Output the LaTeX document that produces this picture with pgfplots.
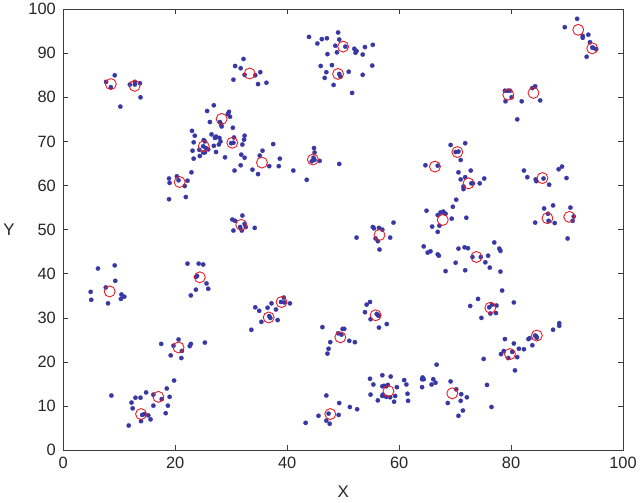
\documentclass[border=0pt]{standalone}
\usepackage{pgfplots}
\pgfplotsset{compat=1.18}
\usepackage{fontspec}
\setmainfont{Liberation Sans}
\definecolor{dotblue}{RGB}{55,55,165}
\definecolor{cred}{RGB}{232,28,36}
\definecolor{axgray}{RGB}{60,60,60}
\begin{document}
\begin{tikzpicture}
\begin{axis}[
  width=561.8bp, height=442.7bp, scale only axis,
  xmin=0, xmax=100, ymin=0, ymax=100,
  xtick={0,20,...,100}, ytick={0,10,...,100},
  tick align=inside, tick pos=both,
  major tick length=5bp,
  tick style={axgray, line width=0.6bp},
  axis line style={axgray, line width=0.8bp},
  /pgf/number format/assume math mode=true,
  tick label style={font=\fontsize{16.5}{19}\selectfont, text=black!85},
  xticklabel style={yshift=-3bp},
  yticklabel style={xshift=-4bp},
  xlabel={X}, ylabel={Y},
  label style={font=\fontsize{17}{20}\selectfont, text=black!85},
  xlabel style={at={(axis description cs:0.5,-0.093)}, anchor=center},
  ylabel style={at={(axis description cs:-0.097,0.5)}, anchor=center, rotate=-90},
]
\addplot[only marks, mark=*, mark size=2.2bp, color=dotblue, mark options={solid, draw=dotblue, fill=dotblue, line width=0.2bp}] table[row sep=\\] {
x y\\
9.2 85.0\\ 7.65 83.5\\ 8.5 82.3\\ 10.2 77.9\\
11.9 82.9\\ 12.8 83.5\\ 12.8 82.9\\ 13.7 83.2\\ 13.8 80.0\\
32.2 88.7\\ 30.7 87.1\\ 31.7 86.6\\ 32.4 85.1\\ 30.4 84.0\\ 34.3 85.0\\ 35.2 85.7\\ 34.8 83.0\\ 36.3 83.3\\
43.9 93.7\\ 46.2 93.2\\ 47.1 93.4\\ 49.1 94.7\\ 49.3 93.1\\ 45.4 92.2\\ 48.6 91.7\\ 50.4 91.5\\ 47.2 89.8\\ 48.9 90.2\\
52.0 91.0\\ 52.4 90.5\\ 52.2 90.1\\ 53.9 91.4\\ 55.3 91.9\\ 53.5 89.7\\ 46.0 87.1\\ 48.0 87.3\\ 55.2 87.2\\ 47.0 85.7\\
51.0 85.8\\ 49.3 85.3\\ 49.5 84.7\\ 46.7 84.4\\ 53.5 85.1\\ 48.3 82.8\\ 51.6 81.0\\
91.8 97.8\\ 89.6 95.9\\ 92.8 93.9\\ 92.8 93.5\\ 93.8 94.2\\ 94.1 92.5\\ 94.7 91.2\\ 95.2 90.9\\ 94.5 91.3\\ 93.5 89.2\\
78.9 81.5\\ 79.4 81.5\\ 79.8 81.5\\ 80.1 80.0\\ 79.0 79.1\\ 81.9 79.1\\ 81.1 75.0\\ 84.3 82.5\\ 83.8 82.1\\ 85.2 79.3\\
69.2 69.2\\ 71.8 69.6\\ 70.1 67.6\\ 70.6 67.7\\ 71.0 65.8\\
26.9 78.2\\ 25.7 76.9\\ 29.6 76.7\\ 29.4 76.2\\ 29.8 75.6\\ 26.2 74.4\\ 28.0 74.4\\ 28.2 73.9\\ 28.3 73.4\\ 30.3 73.1\\
23.0 72.4\\ 23.5 71.3\\ 25.1 70.3\\ 25.3 70.0\\ 26.5 71.6\\ 27.1 70.8\\ 27.3 71.1\\ 27.9 70.8\\ 28.1 70.0\\ 23.3 69.8\\
25.0 68.9\\ 25.5 68.5\\ 25.9 68.2\\ 26.9 69.0\\ 27.8 69.3\\ 23.1 67.9\\ 24.3 68.1\\ 25.0 67.5\\ 25.3 67.5\\ 27.3 67.6\\
24.4 66.7\\ 23.3 66.1\\ 28.9 66.4\\ 30.0 69.6\\ 30.4 69.7\\ 30.5 70.9\\ 32.4 71.3\\ 32.3 70.4\\ 32.0 69.3\\ 31.8 67.0\\
32.4 66.3\\ 31.7 64.6\\ 30.6 63.4\\ 33.8 63.6\\ 34.8 62.6\\
35.6 67.9\\ 35.1 66.8\\ 36.8 64.4\\ 37.5 69.4\\ 38.7 66.1\\ 38.5 64.4\\ 41.1 63.4\\ 43.5 61.3\\
44.8 68.5\\ 44.9 67.5\\ 44.4 65.5\\ 44.7 66.3\\ 44.9 65.8\\ 45.8 65.6\\ 49.3 64.9\\
18.9 61.6\\ 19.0 60.6\\ 20.3 62.1\\ 20.6 61.2\\ 21.7 59.9\\ 22.2 61.1\\ 22.9 63.0\\ 18.9 56.9\\ 21.9 57.4\\
32.0 53.2\\ 30.2 52.3\\ 30.7 52.0\\ 30.4 49.8\\ 31.6 50.6\\ 31.9 49.8\\ 32.4 51.3\\ 32.6 50.6\\ 34.2 50.4\\
6.2 41.2\\ 9.2 41.9\\ 9.3 38.4\\ 7.6 36.9\\ 4.9 35.9\\ 5.0 34.1\\ 10.4 35.3\\ 10.9 34.8\\ 10.3 34.3\\ 8.0 33.3\\
22.2 42.3\\ 24.2 42.3\\ 25.0 42.1\\ 23.7 39.3\\ 23.9 39.5\\ 25.6 37.8\\ 25.9 36.6\\ 23.7 36.4\\ 22.8 35.1\\
55.3 50.6\\ 55.5 50.3\\ 56.4 50.4\\ 57.0 50.0\\ 55.8 48.0\\ 56.2 47.4\\ 59.0 51.6\\ 58.4 48.2\\ 52.4 48.2\\ 56.5 45.5\\
64.7 64.6\\ 66.9 64.5\\
64.9 54.3\\ 66.9 53.3\\ 67.4 53.9\\ 68.3 53.6\\ 67.9 54.1\\ 65.9 50.7\\ 67.2 50.9\\ 66.9 49.5\\ 69.4 52.5\\ 72.0 52.7\\ 70.2 56.8\\ 69.6 55.2\\
70.6 63.0\\ 72.8 63.4\\ 71.8 61.9\\ 71.0 61.4\\ 72.9 60.5\\ 73.2 60.5\\ 71.5 59.8\\ 71.5 59.2\\ 74.4 60.5\\ 75.2 61.6\\
82.3 63.4\\ 82.9 61.9\\ 84.4 61.4\\ 84.5 61.0\\ 85.8 61.6\\ 86.8 60.2\\ 88.5 63.7\\ 89.1 64.3\\ 89.9 61.7\\
85.9 54.8\\ 87.5 55.5\\ 86.6 53.6\\ 86.7 52.0\\ 84.3 51.6\\ 87.8 51.5\\ 90.6 55.0\\ 91.2 53.0\\ 91.0 52.0\\ 90.1 48.0\\
77.0 47.1\\ 70.6 45.7\\ 71.7 46.0\\ 72.3 45.8\\ 73.1 43.8\\ 74.6 43.8\\ 75.9 44.1\\ 77.9 45.7\\ 78.1 45.2\\ 75.4 42.6\\
76.2 41.4\\ 78.1 40.5\\ 70.1 42.5\\ 68.3 40.6\\ 71.8 40.8\\ 66.9 44.4\\ 67.1 44.1\\ 64.4 46.2\\ 65.1 44.8\\ 65.6 45.1\\
34.3 32.4\\ 33.6 27.3\\ 35.0 31.6\\ 36.5 32.3\\ 37.2 33.3\\ 38.0 31.9\\ 36.8 30.4\\ 37.0 30.0\\ 38.9 33.6\\ 39.5 33.5\\
39.4 34.6\\ 40.5 33.3\\ 35.4 29.1\\ 38.3 29.5\\
17.5 24.1\\ 20.6 25.1\\ 19.7 23.7\\ 21.2 22.5\\ 22.6 23.6\\ 22.8 24.1\\ 25.3 24.4\\ 19.2 21.5\\ 21.1 20.9\\
19.8 15.8\\ 18.5 14.0\\ 16.1 12.6\\ 17.6 11.6\\ 19.0 12.1\\ 14.8 13.1\\ 16.1 10.1\\ 18.7 10.1\\ 18.3 8.4\\
8.6 12.4\\ 12.9 11.9\\ 13.8 11.9\\ 12.2 10.8\\ 12.4 9.5\\ 14.1 8.0\\ 14.5 8.2\\ 15.2 7.9\\ 13.9 6.6\\ 15.6 7.0\\ 11.7 5.6\\
46.3 27.9\\ 49.9 27.5\\ 50.2 27.5\\ 49.1 26.5\\ 49.7 26.2\\ 51.1 24.8\\ 52.1 24.5\\ 47.7 24.5\\ 47.4 23.0\\ 47.2 21.9\\
54.2 33.0\\ 54.8 33.6\\ 53.9 31.3\\ 56.0 30.9\\ 56.2 30.6\\ 56.4 30.5\\ 54.9 29.7\\ 57.8 28.6\\ 56.4 27.8\\
47.0 12.4\\ 49.3 10.7\\ 51.2 9.8\\ 52.5 9.3\\ 47.4 8.3\\ 49.2 8.0\\ 45.6 7.8\\ 47.0 6.7\\ 47.6 6.0\\ 43.3 6.2\\
54.8 16.2\\ 57.0 17.0\\ 58.5 16.7\\ 55.4 14.9\\ 57.0 14.5\\ 57.3 14.6\\ 57.7 14.5\\ 58.0 14.8\\ 59.6 14.3\\ 54.9 12.6\\
57.0 12.3\\ 57.1 12.6\\ 57.7 12.1\\ 58.4 12.0\\ 59.3 12.3\\ 56.2 11.3\\ 59.1 11.0\\ 60.9 15.9\\ 61.3 14.9\\ 61.5 12.8\\ 61.6 11.2\\
64.2 16.5\\ 64.4 16.1\\ 64.1 16.1\\ 66.1 16.1\\ 66.5 15.3\\ 65.8 14.9\\ 64.1 14.3\\ 66.7 19.4\\ 69.2 15.6\\ 70.2 13.8\\
71.1 12.7\\ 72.1 12.0\\ 71.0 11.2\\ 68.7 10.7\\ 71.4 9.0\\ 70.6 7.8\\
74.1 34.3\\ 80.5 33.5\\ 72.7 32.7\\ 76.1 32.4\\ 76.6 33.0\\ 77.4 32.8\\ 76.3 31.0\\ 77.3 31.1\\ 74.7 30.0\\ 78.4 36.2\\
88.6 28.8\\ 88.6 28.2\\ 87.5 27.3\\ 84.3 26.0\\ 84.5 25.8\\ 84.6 25.5\\ 83.3 25.4\\ 83.1 25.2\\ 83.8 23.8\\
78.9 25.2\\ 80.5 24.2\\ 81.4 23.0\\ 82.3 22.9\\ 78.7 22.5\\ 78.2 21.8\\ 80.2 22.3\\ 79.5 20.9\\ 81.1 21.1\\ 80.7 18.1\\
75.1 20.7\\ 75.7 14.8\\ 76.5 9.8\\
};
\addplot[only marks, mark=o, mark size=5.5bp, color=cred, mark options={solid, line width=0.9bp}] table[row sep=\\] {
x y\\
8.5 83.0\\ 12.75 82.6\\ 33.3 85.4\\ 50.0 91.5\\ 49.1 85.3\\ 92.0 95.3\\ 94.5 91.1\\ 79.5 80.6\\ 84.0 81.0\\ 70.4 67.6\\
28.3 75.1\\ 25.1 68.9\\ 30.2 69.7\\ 35.5 65.2\\ 44.6 65.9\\ 20.8 60.8\\ 31.8 51.1\\ 8.3 36.0\\ 24.4 39.2\\ 56.5 48.8\\
66.4 64.3\\ 67.8 52.2\\ 72.4 60.5\\ 85.6 61.7\\ 86.5 52.6\\ 90.4 52.9\\ 73.8 43.8\\ 36.7 30.1\\ 39.0 33.6\\ 20.6 23.3\\
17.0 12.1\\ 13.9 8.2\\ 49.5 25.6\\ 55.8 30.6\\ 47.7 8.2\\ 58.1 13.4\\ 76.3 32.3\\ 84.6 26.0\\ 79.8 21.8\\ 69.5 12.9\\
};
\end{axis}
\path (current axis.south west) +(-62.7bp,-52.3bp) (current axis.north east) +(15.5bp,8bp);
\end{tikzpicture}
\end{document}
